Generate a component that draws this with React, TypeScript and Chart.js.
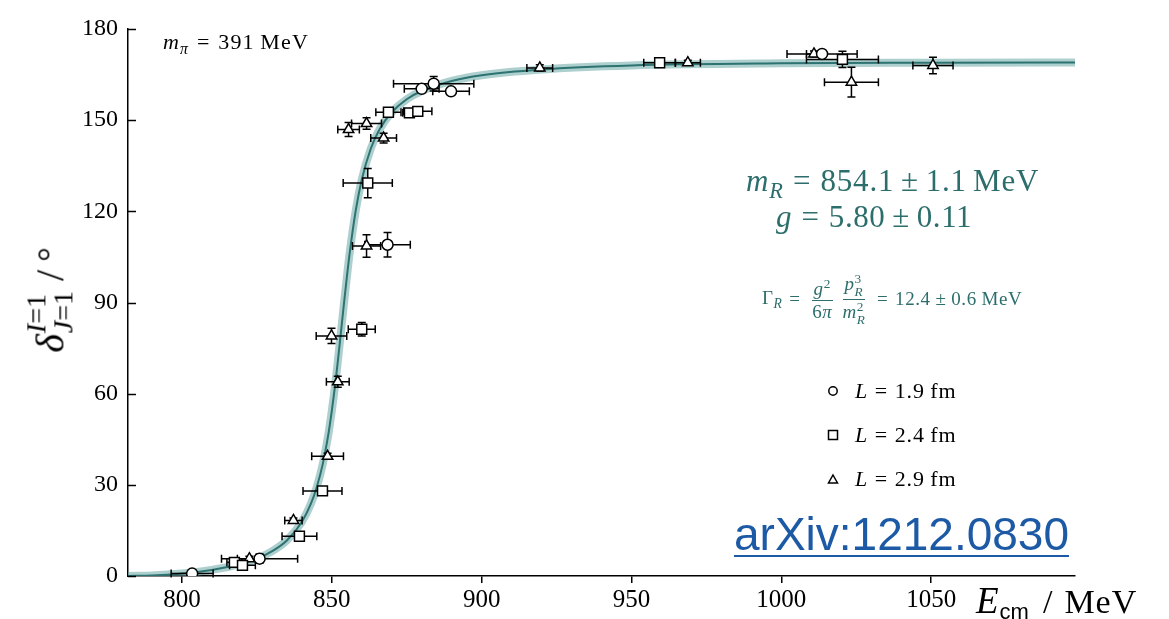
import React, { useEffect, useRef } from 'react';
import { Chart, registerables } from 'chart.js';

Chart.register(...registerables);

// ---- data ----
const circleE = [803.4, 825.9, 868.6, 880.0, 884.0, 889.8, 1013.6];
const circleD = [0.8, 5.7, 109.0, 160.3, 162.0, 159.5, 171.8];
const circleEErr = [7.0, 12.7, 7.6, 5.8, 13.4, 6.1, 11.7];
const circleDErr = [0.5, 1.5, 4.0, 1.0, 2.4, 1.0, 1.2];

const squareE = [817.5, 820.2, 839.2, 846.9, 860.0, 862.0, 868.9, 875.9, 878.7, 959.4, 1020.4];
const squareD = [4.5, 3.5, 13.1, 28.0, 81.2, 129.3, 152.6, 152.4, 152.9, 168.9, 170.0];
const squareEErr = [2.5, 4.3, 5.8, 6.5, 4.5, 8.2, 4.2, 2.2, 4.7, 5.3, 12.0];
const squareDErr = [0.8, 0.8, 1.0, 1.0, 2.2, 4.8, 1.0, 1.0, 1.0, 0.8, 2.7];

const triE = [822.5, 837.2, 848.6, 849.9, 852.0, 855.6, 861.6, 867.3, 861.6, 919.4, 968.8, 1010.9, 1023.4, 1050.6];
const triD = [5.7, 18.3, 39.4, 79.0, 63.9, 146.9, 148.9, 144.1, 108.6, 167.2, 168.9, 171.8, 162.5, 168.0];
const triEErr = [4.0, 2.9, 5.3, 5.1, 3.8, 3.6, 5.0, 4.3, 4.7, 4.3, 4.2, 2.5, 9.0, 6.7];
const triDErr = [0.8, 0.8, 1.0, 2.5, 1.8, 2.3, 1.9, 1.6, 3.7, 1.0, 0.8, 1.0, 4.9, 2.7];

const fitE = [782, 790, 800, 810, 820, 825, 830, 835, 840, 843, 845, 847, 849, 850, 851, 852, 853, 854.1, 855, 856, 858, 860, 863, 866, 870, 875, 880, 890, 900, 920, 950, 1000, 1050, 1098];
const fitD = [0, 0.2, 0.86, 2.0, 4.1, 5.7, 8.1, 11.7, 17.8, 23.7, 29.3, 36.9, 47.5, 54.3, 61.9, 70.5, 79.7, 90, 98.1, 106.5, 120.3, 130.4, 140.6, 147.1, 152.6, 156.9, 159.6, 162.9, 164.8, 166.7, 168.0, 168.7, 168.9, 169.0];

const xTicks = [800, 850, 900, 950, 1000, 1050];
const yTicks = [0, 30, 60, 90, 120, 150, 180];

const TEAL = '#2c6e6b';
const SERIF = '"Liberation Serif", "DejaVu Serif", serif';
const SANS = '"Liberation Sans", Arial, sans-serif';

const series = [
  { e: circleE, d: circleD, ee: circleEErr, de: circleDErr },
  { e: squareE, d: squareD, ee: squareEErr, de: squareDErr },
  { e: triE, d: triD, ee: triEErr, de: triDErr },
];

const pts = (e: number[], d: number[]) => e.map((v, i) => ({ x: v, y: d[i] }));

function Op({ c, m = '0.3em' }: { c: string; m?: string }) {
  return <span style={{ margin: `0 ${m}` }}>{c}</span>;
}

function Frac({ num, den }: { num: React.ReactNode; den: React.ReactNode }) {
  return (
    <span style={{ display: 'inline-flex', flexDirection: 'column', alignItems: 'center', margin: '0 3px', lineHeight: 1.15, verticalAlign: 'middle' }}>
      <span style={{ borderBottom: `1px solid ${TEAL}`, padding: '0 2px' }}>{num}</span>
      <span style={{ padding: '0 2px' }}>{den}</span>
    </span>
  );
}

export default function App() {
  const ref = useRef<HTMLCanvasElement>(null);

  useEffect(() => {
    const canvas = ref.current!;
    const errorBars = {
      id: 'errorBars',
      beforeDatasetDraw(chart: any, args: any) {
        if (args.index !== 2) return;
        const xs = chart.scales.x;
        const ys = chart.scales.y;
        const c = chart.ctx;
        c.save();
        c.strokeStyle = '#000';
        c.lineWidth = 1.5;
        const cap = 4;
        for (const s of series) {
          for (let i = 0; i < s.e.length; i++) {
            const px = xs.getPixelForValue(s.e[i]);
            const py = ys.getPixelForValue(s.d[i]);
            const x1 = xs.getPixelForValue(s.e[i] - s.ee[i]);
            const x2 = xs.getPixelForValue(s.e[i] + s.ee[i]);
            const y1 = ys.getPixelForValue(s.d[i] - s.de[i]);
            const y2 = ys.getPixelForValue(s.d[i] + s.de[i]);
            c.beginPath();
            c.moveTo(x1, py); c.lineTo(x2, py);
            c.moveTo(x1, py - cap); c.lineTo(x1, py + cap);
            c.moveTo(x2, py - cap); c.lineTo(x2, py + cap);
            c.moveTo(px, y1); c.lineTo(px, y2);
            c.moveTo(px - cap, y1); c.lineTo(px + cap, y1);
            c.moveTo(px - cap, y2); c.lineTo(px + cap, y2);
            c.stroke();
          }
        }
        c.restore();
      },
      afterDraw(chart: any) {
        const ys = chart.scales.y;
        const c = chart.ctx;
        const left = chart.chartArea.left;
        c.save();
        c.strokeStyle = '#000';
        c.lineWidth = 1.5;
        for (const t of ys.ticks) {
          const py = Math.round(ys.getPixelForValue(t.value)) + 0.5;
          c.beginPath();
          c.moveTo(left, py);
          c.lineTo(left + 8, py);
          c.stroke();
        }
        c.restore();
      },
    };

    const chart = new Chart(canvas, {
      type: 'scatter',
      data: {
        datasets: [
          { data: pts(circleE, circleD), pointStyle: 'circle', pointRadius: 5.5, pointBackgroundColor: '#fff', pointBorderColor: '#000', pointBorderWidth: 1.5, order: 1 } as any,
          { data: pts(squareE, squareD), pointStyle: 'rect', pointRadius: 7, pointBackgroundColor: '#fff', pointBorderColor: '#000', pointBorderWidth: 1.5, order: 1 } as any,
          { data: pts(triE, triD), pointStyle: 'triangle', pointRadius: 6, pointBackgroundColor: '#fff', pointBorderColor: '#000', pointBorderWidth: 1.5, order: 1 } as any,
          { data: pts(fitE, fitD), showLine: true, pointRadius: 0, borderColor: '#2d7371', borderWidth: 2, cubicInterpolationMode: 'monotone', order: 2 } as any,
          { data: pts(fitE, fitD), showLine: true, pointRadius: 0, borderColor: 'rgba(105,168,166,0.55)', borderWidth: 8, cubicInterpolationMode: 'monotone', order: 3 } as any,
        ],
      },
      options: {
        responsive: false,
        animation: false,
        layout: { padding: { top: 29, right: 94, left: 0, bottom: 0 } },
        plugins: { legend: { display: false }, tooltip: { enabled: false } },
        scales: {
          x: {
            type: 'linear',
            min: 782,
            max: 1098,
            afterBuildTicks: (s: any) => { s.ticks = xTicks.map((v) => ({ value: v })); },
            afterFit: (s: any) => { s.height = 43; },
            grid: { display: true, drawOnChartArea: false, drawTicks: true, tickLength: 7, color: '#000', lineWidth: 1.5 },
            border: { display: true, color: '#000', width: 1.5 },
            ticks: { color: '#000', font: { size: 25, family: SERIF }, padding: 2, maxRotation: 0, autoSkip: false, callback: (v: any) => String(v) },
          },
          y: {
            type: 'linear',
            min: 0,
            max: 180,
            afterBuildTicks: (s: any) => { s.ticks = yTicks.map((v) => ({ value: v })); },
            afterFit: (s: any) => { s.width = 128; },
            grid: { display: true, drawOnChartArea: false, drawTicks: false },
            border: { display: true, color: '#000', width: 1.5 },
            ticks: { color: '#000', font: { size: 24, family: SERIF }, padding: 10, autoSkip: false, callback: (v: any) => String(v) },
          },
        },
      } as any,
      plugins: [errorBars],
    });
    return () => chart.destroy();
  }, []);

  const sub = (t: React.ReactNode, size: string = '0.72em') => (
    <span style={{ fontSize: size, verticalAlign: '-0.3em' }}>{t}</span>
  );

  return (
    <div style={{ position: 'fixed', left: 0, top: 0, width: 1169, height: 619, background: '#fff', overflow: 'hidden' }}>
      <canvas ref={ref} width={1169} height={619} style={{ display: 'block' }} />

      {/* m_pi */}
      <div style={{ position: 'absolute', left: 163, top: 31, fontFamily: SERIF, fontSize: 22, lineHeight: 1, whiteSpace: 'nowrap', color: '#000', letterSpacing: 1.2 }}>
        <i>m</i>{sub(<i>π</i>)}<Op c="=" m="0.35em" />391<span style={{ marginLeft: '0.25em' }}>MeV</span>
      </div>

      {/* fit parameters */}
      <div style={{ position: 'absolute', left: 746, top: 165, fontFamily: SERIF, fontSize: 31, lineHeight: 1, whiteSpace: 'nowrap', color: TEAL, letterSpacing: 0.8 }}>
        <i>m</i>{sub(<i>R</i>)}<Op c="=" />854.1<Op c="±" m="0.22em" />1.1<span style={{ marginLeft: '0.2em' }}>MeV</span>
      </div>
      <div style={{ position: 'absolute', left: 776, top: 201, fontFamily: SERIF, fontSize: 31, lineHeight: 1, whiteSpace: 'nowrap', color: TEAL, letterSpacing: 0.6 }}>
        <i>g</i><Op c="=" />5.80<Op c="±" m="0.22em" />0.11
      </div>
      <div style={{ position: 'absolute', left: 762, top: 272, fontFamily: SERIF, fontSize: 19, whiteSpace: 'nowrap', color: TEAL, display: 'flex', alignItems: 'center', letterSpacing: 0.6 }}>
        <span>Γ{sub(<i>R</i>)}</span><Op c="=" m="0.35em" />
        <Frac num={<><i>g</i><sup style={{ fontSize: '0.7em' }}>2</sup></>} den={<>6<i>π</i></>} />
        <Frac
          num={<><i>p</i><span style={{ display: 'inline-flex', flexDirection: 'column', fontSize: '0.7em', verticalAlign: 'middle', lineHeight: 1 }}><span>3</span><i>R</i></span></>}
          den={<><i>m</i><span style={{ display: 'inline-flex', flexDirection: 'column', fontSize: '0.7em', verticalAlign: 'middle', lineHeight: 1 }}><span>2</span><i>R</i></span></>}
        />
        <Op c="=" m="0.35em" />
        <span>12.4<Op c="±" m="0.25em" />0.6<span style={{ marginLeft: '0.25em' }}>MeV</span></span>
      </div>

      {/* legend */}
      {[
        { label: '1.9', shape: 'circle', y: 391 },
        { label: '2.4', shape: 'square', y: 435 },
        { label: '2.9', shape: 'triangle', y: 479 },
      ].map((r) => (
        <div key={r.label} style={{ position: 'absolute', left: 826, top: r.y - 13, height: 26, display: 'flex', alignItems: 'center', whiteSpace: 'nowrap', fontFamily: SERIF, fontSize: 22, color: '#000', letterSpacing: 0.9 }}>
          <svg width={14} height={14} style={{ marginRight: 15 }}>
            {r.shape === 'circle' && <circle cx={7} cy={7} r={4.2} fill="#fff" stroke="#000" strokeWidth={1.5} />}
            {r.shape === 'square' && <rect x={2.5} y={2.5} width={9} height={9} fill="#fff" stroke="#000" strokeWidth={1.5} />}
            {r.shape === 'triangle' && <polygon points="7,3 11.5,11 2.5,11" fill="#fff" stroke="#000" strokeWidth={1.5} />}
          </svg>
          <span><i>L</i><Op c="=" />{r.label}<span style={{ marginLeft: '0.25em' }}>fm</span></span>
        </div>
      ))}

      {/* arXiv */}
      <div style={{ position: 'absolute', left: 734, top: 511, fontFamily: SANS, fontSize: 46, lineHeight: 1, whiteSpace: 'nowrap', color: '#1d5aa6', textDecoration: 'underline', textDecorationThickness: 2, textUnderlineOffset: 5 }}>
        arXiv:1212.0830
      </div>

      {/* x-axis title */}
      <div style={{ position: 'absolute', left: 976, top: 582, fontFamily: SERIF, fontSize: 34, lineHeight: 1, whiteSpace: 'nowrap', color: '#000' }}>
        <i style={{ fontSize: 37 }}>E</i><span style={{ fontFamily: SANS, fontSize: 22, verticalAlign: '-0.25em', marginLeft: 1 }}>cm</span>
        <span style={{ marginLeft: 14 }}>/</span><span style={{ marginLeft: 12, letterSpacing: 1 }}>MeV</span>
      </div>

      {/* y-axis title */}
      <div style={{ position: 'absolute', left: 50, top: 300, transform: 'translate(-50%, -50%) rotate(-90deg)', fontFamily: SERIF, fontSize: 40, lineHeight: 1, whiteSpace: 'nowrap', color: '#000', display: 'flex', alignItems: 'center' }}>
        <i>δ</i>
        <span style={{ display: 'inline-flex', flexDirection: 'column', fontSize: 28, lineHeight: 0.95, marginLeft: 1 }}>
          <span><i>I</i>=1</span>
          <span><i>J</i>=1</span>
        </span>
        <span style={{ marginLeft: 10 }}>/</span><span style={{ marginLeft: 8, fontSize: 36 }}>°</span>
      </div>
    </div>
  );
}
